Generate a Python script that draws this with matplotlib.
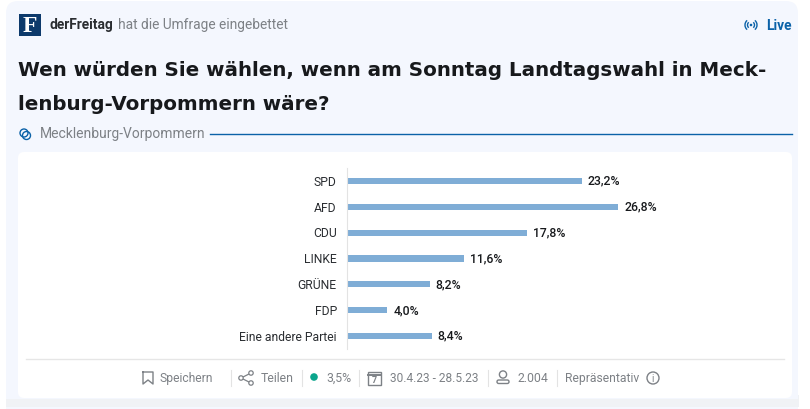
import matplotlib
matplotlib.use('Agg')
import matplotlib.pyplot as plt
from matplotlib.patches import FancyBboxPatch, Rectangle, Circle, Arc
from matplotlib.transforms import ScaledTranslation

plt.rcParams['font.family'] = ['Roboto', 'DejaVu Sans']

parties = ['SPD', 'AFD', 'CDU', 'LINKE', 'GRÜNE', 'FDP', 'Eine andere Partei']
values = [23.2, 26.8, 17.8, 11.6, 8.2, 4.0, 8.4]
labels = ['23,2%', '26,8%', '17,8%', '11,6%', '8,2%', '4,0%', '8,4%']

W, H = 810, 410
BLUE = '#0b62a8'
GREY = '#7d8186'
DARK = '#17191c'

fig = plt.figure(figsize=(W / 100, H / 100), dpi=100, facecolor='white')

# hintergrund in pixelkoordinaten
bg = fig.add_axes([0, 0, 1, 1])
bg.set_xlim(0, W)
bg.set_ylim(H, 0)
bg.axis('off')

bg.add_patch(Rectangle((6, 396), 793, 12, fc='#f0f2f5', ec='none'))
bg.add_patch(FancyBboxPatch((18, 14), 768, 400, boxstyle='round,pad=12,rounding_size=12',
                            fc='#f4f7fe', ec='none', clip_on=True))
bg.add_patch(Rectangle((6, 400), 793, 8, fc='#f0f2f5', ec='none'))
bg.add_patch(FancyBboxPatch((24, 159), 762, 234, boxstyle='round,pad=6,rounding_size=6',
                            fc='white', ec='none'))

# kopfzeile
bg.add_patch(Rectangle((19, 15), 22, 22, fc='#0d3a6b', ec='none'))
bg.text(30, 26.5, 'F', family='Liberation Serif', weight='bold', size=17, color='white',
        ha='center', va='center')
bg.text(50, 25.5, 'derFreitag', size=9.9, weight='bold', color='#2a2d31', va='center')
bg.text(118, 25.5, 'hat die Umfrage eingebettet', size=9.95, color=GREY, va='center')

# live
bg.add_patch(Circle((751, 26), 1.3, fc=BLUE, ec='none'))
for r in (3.5, 6):
    bg.add_patch(Arc((751, 26), 2 * r, 2 * r, theta1=-50, theta2=50, color=BLUE, lw=1))
    bg.add_patch(Arc((751, 26), 2 * r, 2 * r, theta1=130, theta2=230, color=BLUE, lw=1))
bg.text(766, 26.5, 'Live', size=9.9, weight='bold', color=BLUE, va='center')

# titel
bg.text(18, 71, 'Wen würden Sie wählen, wenn am Sonntag Landtagswahl in Meck-',
        family='DejaVu Sans', weight='bold', size=14.3, color=DARK, va='center')
bg.text(18, 104.5, 'lenburg-Vorpommern wäre?',
        family='DejaVu Sans', weight='bold', size=14.3, color=DARK, va='center')

# region
bg.add_patch(Circle((24, 134), 4, fc='none', ec=BLUE, lw=1))
bg.add_patch(Circle((26.5, 136.5), 4, fc='none', ec=BLUE, lw=1))
bg.text(40, 134.5, 'Mecklenburg-Vorpommern', size=10, color=GREY, va='center')
bg.plot([210, 792], [134.5, 134.5], color=BLUE, lw=1)

# fusszeile
bg.plot([26, 784], [359.5, 359.5], color='#e6e6e6', lw=1)
for x in (230.5, 301.5, 358.5, 487.5, 556.5):
    bg.plot([x, x], [371, 387], color='#e3e3e3', lw=0.8)

foot = [(159, 'Speichern', 8.7), (261, 'Teilen', 8.8), (326, '3,5%', 8.8),
        (390, '30.4.23 - 28.5.23', 8.6), (518, '2.004', 8.8), (565, 'Repräsentativ', 8.7)]
for x, s, fs in foot:
    bg.text(x, 378.5, s, size=fs, color=GREY, va='center')

# lesezeichen
bg.plot([143, 143, 148, 153, 153, 143], [373, 385, 381, 385, 373, 373], color=GREY, lw=1)
# teilen
bg.plot([251, 241, 251], [374, 379, 384], color=GREY, lw=0.9)
for cx, cy in [(241, 379), (251, 374), (251, 384)]:
    bg.add_patch(Circle((cx, cy), 2.2, fc='white', ec=GREY, lw=0.9, zorder=3))
# punkt
bg.add_patch(Circle((314, 378), 3.8, fc='#0aa58c', ec='none'))
# kalender
bg.add_patch(Rectangle((368, 373), 13, 13, fc='none', ec=GREY, lw=1))
bg.plot([368, 381], [375.5, 375.5], color=GREY, lw=1.4)
bg.text(374.5, 381, '7', size=6.5, color=GREY, ha='center', va='center', weight='bold')
# person
bg.add_patch(Circle((503, 375.5), 3.6, fc='none', ec=GREY, lw=1))
bg.add_patch(FancyBboxPatch((497, 381), 12, 3.5, boxstyle='round,pad=0,rounding_size=1.7',
                            fc='none', ec=GREY, lw=1))
# info
bg.add_patch(Circle((653, 379), 6, fc='none', ec=GREY, lw=1))
bg.text(653, 379, 'i', size=7, color=GREY, ha='center', va='center')

# balken
left, top, right, bottom = 346.5, 169, 746.5, 350
ax = fig.add_axes([left / W, 1 - bottom / H, (right - left) / W, (bottom - top) / H])
ax.patch.set_alpha(0)
ax.barh(parties, values, height=0.235, color='#7fadd6')
ax.set_xlim(0, (right - left) / 10.13)
ax.set_ylim(6.5, -0.5)
ax.xaxis.set_visible(False)
for side in ('top', 'right', 'bottom'):
    ax.spines[side].set_visible(False)
ax.spines['left'].set_color('#e3e3e3')
ax.spines['left'].set_linewidth(0.8)
ax.tick_params(axis='y', length=0, pad=7, labelsize=8.7, labelcolor='#2a2d31')
up = ScaledTranslation(0, 1.2 / 100, fig.dpi_scale_trans)
for t in ax.get_yticklabels():
    t.set_transform(t.get_transform() + up)
for i, (v, s) in enumerate(zip(values, labels)):
    ax.annotate(s, (v, i), xytext=(4.5, 0.5), textcoords='offset points', va='center',
                size=8.8, weight='medium', color='#17191c')

fig.savefig('out.png', dpi=100)
